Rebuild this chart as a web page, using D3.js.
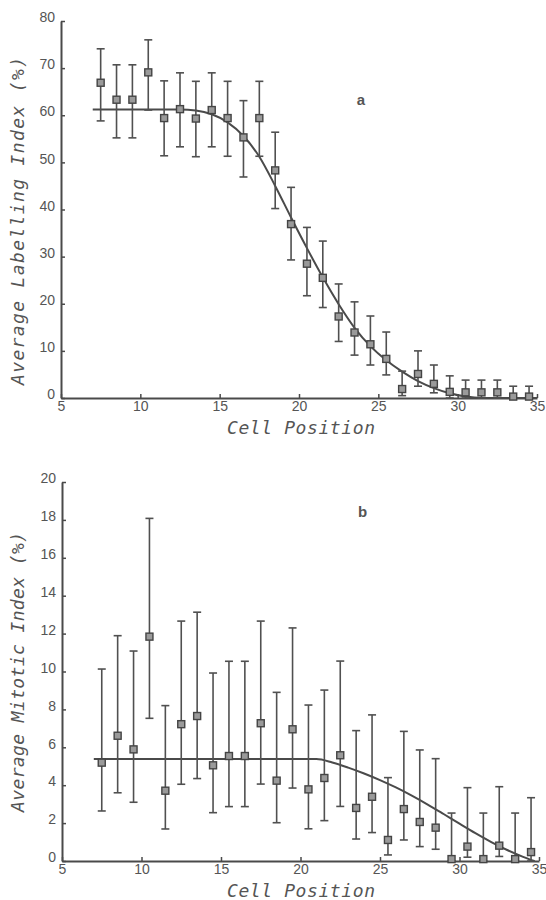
<!DOCTYPE html>
<html>
<head>
<meta charset="utf-8">
<script src="https://cdn.jsdelivr.net/npm/d3@7"></script>
<style>
  body { margin: 0; background: #fff; }
  .tick text { font-family: "Liberation Sans", Arial, sans-serif; font-size: 14px; fill: #555; }
  .axis-title { font-family: "DejaVu Sans Mono", monospace; font-style: oblique; fill: #555; }
</style>
</head>
<body>
<svg id="chart" width="546" height="900"></svg>
<script>
// cell positions shared by both panels
const cellPos = [7.5, 8.5, 9.5, 10.5, 11.5, 12.5, 13.5, 14.5, 15.5, 16.5, 17.5, 18.5, 19.5, 20.5,
                 21.5, 22.5, 23.5, 24.5, 25.5, 26.5, 27.5, 28.5, 29.5, 30.5, 31.5, 32.5, 33.5, 34.5];

// panel a: labelling index
const labelMean = [66.9, 63.3, 63.3, 69.1, 59.4, 61.3, 59.3, 61.1, 59.4, 55.3, 59.4, 48.3, 36.9, 28.5,
                   25.5, 17.3, 13.9, 11.4, 8.3, 1.9, 5.1, 3.0, 1.3, 1.2, 1.2, 1.2, 0.3, 0.3];
const labelLow  = [58.8, 55.2, 55.2, 61.1, 51.4, 53.3, 51.2, 53.3, 51.3, 46.9, 51.3, 40.2, 29.3, 21.7,
                   19.2, 12.0, 9.1, 7.0, 4.9, 0.5, 2.5, 1.1, 0, 0, 0, 0, 0, 0];
const labelHigh = [74.1, 70.7, 70.7, 76.0, 67.3, 69.0, 67.2, 69.0, 67.2, 63.1, 67.2, 56.4, 44.7, 36.2,
                   33.3, 24.2, 20.4, 17.4, 14.0, 5.7, 10.0, 7.0, 4.7, 3.8, 3.8, 3.8, 2.5, 2.5];
const labelFitX = [7, 12.5, 13.5, 14.5, 15.5, 16.5, 17.5, 18.5, 19.5, 20.5, 21.5, 22.5, 23.5, 24.5,
                   25.5, 26.5, 27.5, 28.5, 29.5, 30.5, 31.5, 35];
const labelFitY = [61.2, 61.2, 61.0, 60.2, 58.5, 55.6, 51.2, 45.0, 38.3, 31.8, 25.6, 19.9, 14.9, 11.0,
                   8.0, 5.6, 3.6, 2.1, 1.0, 0.3, 0, 0];
const labelTicks = [0, 10, 20, 30, 40, 50, 60, 70, 80];

// panel b: mitotic index
const mitMean = [5.19, 6.61, 5.89, 11.84, 3.71, 7.22, 7.65, 5.05, 5.54, 5.54, 7.27, 4.24, 6.95, 3.78,
                 4.38, 5.58, 2.80, 3.39, 1.11, 2.74, 2.06, 1.76, 0.10, 0.76, 0.10, 0.81, 0.10, 0.47];
const mitLow  = [2.64, 3.60, 3.10, 7.53, 1.69, 4.05, 4.35, 2.55, 2.87, 2.87, 4.06, 2.02, 3.85, 1.70,
                 2.13, 2.88, 1.16, 1.50, 0.32, 1.11, 0.76, 0.62, 0, 0.20, 0, 0.24, 0, 0];
const mitHigh = [10.13, 11.89, 11.08, 18.08, 8.20, 12.66, 13.13, 9.92, 10.54, 10.54, 12.66, 8.90, 12.30, 8.23,
                 9.02, 10.55, 6.88, 7.71, 4.40, 6.84, 5.86, 5.40, 2.53, 3.87, 2.53, 3.92, 2.53, 3.34];
const mitFitX = [7, 21, 22, 23, 24, 25, 26, 27, 28, 29, 30, 31, 32, 33, 34, 34.7];
const mitFitY = [5.38, 5.38, 5.2, 4.93, 4.62, 4.27, 3.88, 3.45, 2.98, 2.48, 1.97, 1.47, 1.0, 0.58, 0.22, 0];
const mitTicks = [0, 2, 4, 6, 8, 10, 12, 14, 16, 18, 20];

const xTicks = [5, 10, 15, 20, 25, 30, 35];

const ink = "#4a4a4a";

function drawPanel(svg, opt) {
  const x = d3.scaleLinear().domain([5, 35]).range([opt.left, opt.right]);
  const y = d3.scaleLinear().domain([0, opt.yMax]).range([opt.bottom, opt.top]);

  const g = svg.append("g");

  // axes, ticks pointing inward, labels sitting on the tick
  const yAxis = g.append("g")
    .attr("transform", `translate(${opt.left},0)`)
    .call(d3.axisLeft(y).tickValues(opt.yTicks).tickSize(-4).tickSizeOuter(0).tickPadding(6));
  yAxis.selectAll(".tick text").attr("dy", "0.05em");

  g.append("g")
    .attr("transform", `translate(0,${opt.bottom})`)
    .call(d3.axisBottom(x).tickValues(xTicks).tickSize(-4).tickSizeOuter(0).tickPadding(3));

  g.selectAll(".domain").attr("stroke", ink).attr("stroke-width", 2);
  g.selectAll(".tick line").attr("stroke", ink).attr("stroke-width", 1.5);

  // fitted curve
  const fit = opt.fitX.map((v, i) => [v, opt.fitY[i]]);
  g.append("path")
    .datum(fit)
    .attr("fill", "none")
    .attr("stroke", ink)
    .attr("stroke-width", 2)
    .attr("d", d3.line().x(d => x(d[0])).y(d => y(d[1])).curve(d3.curveMonotoneX));

  // error bars
  const rows = cellPos.map((c, i) => ({ c: c, m: opt.mean[i], lo: opt.low[i], hi: opt.high[i] }));
  const bars = g.append("g").attr("stroke", "#505050").attr("stroke-width", 1.6);
  bars.selectAll("line.stem").data(rows).join("line").classed("stem", true)
    .attr("x1", d => x(d.c)).attr("x2", d => x(d.c))
    .attr("y1", d => y(d.lo)).attr("y2", d => y(d.hi));
  bars.selectAll("line.cap-hi").data(rows).join("line").classed("cap-hi", true)
    .attr("x1", d => x(d.c) - 4).attr("x2", d => x(d.c) + 4)
    .attr("y1", d => y(d.hi)).attr("y2", d => y(d.hi));
  bars.selectAll("line.cap-lo").data(rows).join("line").classed("cap-lo", true)
    .attr("x1", d => x(d.c) - 4).attr("x2", d => x(d.c) + 4)
    .attr("y1", d => y(d.lo)).attr("y2", d => y(d.lo));

  // square markers
  g.append("g").selectAll("rect").data(rows).join("rect")
    .attr("x", d => x(d.c) - 3.5).attr("y", d => y(d.m) - 3.5)
    .attr("width", 7).attr("height", 7)
    .attr("fill", "#9a9a9a").attr("stroke", "#444").attr("stroke-width", 1.4);

  // titles
  g.append("text").classed("axis-title", true)
    .attr("x", 301).attr("y", opt.bottom + 36)
    .attr("text-anchor", "middle")
    .attr("textLength", 148).attr("lengthAdjust", "spacing")
    .style("font-size", "18px")
    .text("Cell Position");

  g.append("text").classed("axis-title", true)
    .attr("transform", `translate(24,${opt.yTitleMid}) rotate(-90)`)
    .attr("text-anchor", "middle")
    .attr("textLength", opt.yTitleLen).attr("lengthAdjust", "spacing")
    .style("font-size", "18px")
    .text(opt.yTitle);

  g.append("text")
    .attr("x", x(23.9)).attr("y", opt.letterY)
    .attr("text-anchor", "middle")
    .style("font-family", "Liberation Sans, Arial, sans-serif")
    .style("font-weight", "bold")
    .style("font-size", "15px")
    .attr("fill", "#555")
    .text(opt.letter);
}

const svg = d3.select("#chart");

drawPanel(svg, {
  left: 61, right: 537, top: 21, bottom: 398, yMax: 80, yTicks: labelTicks,
  mean: labelMean, low: labelLow, high: labelHigh, fitX: labelFitX, fitY: labelFitY,
  yTitle: "Average Labelling Index (%)", yTitleMid: 221, yTitleLen: 328,
  letter: "a", letterY: 105
});

drawPanel(svg, {
  left: 62, right: 539, top: 482, bottom: 861, yMax: 20, yTicks: mitTicks,
  mean: mitMean, low: mitLow, high: mitHigh, fitX: mitFitX, fitY: mitFitY,
  yTitle: "Average Mitotic Index (%)", yTitleMid: 672, yTitleLen: 280,
  letter: "b", letterY: 517
});
</script>
</body>
</html>
